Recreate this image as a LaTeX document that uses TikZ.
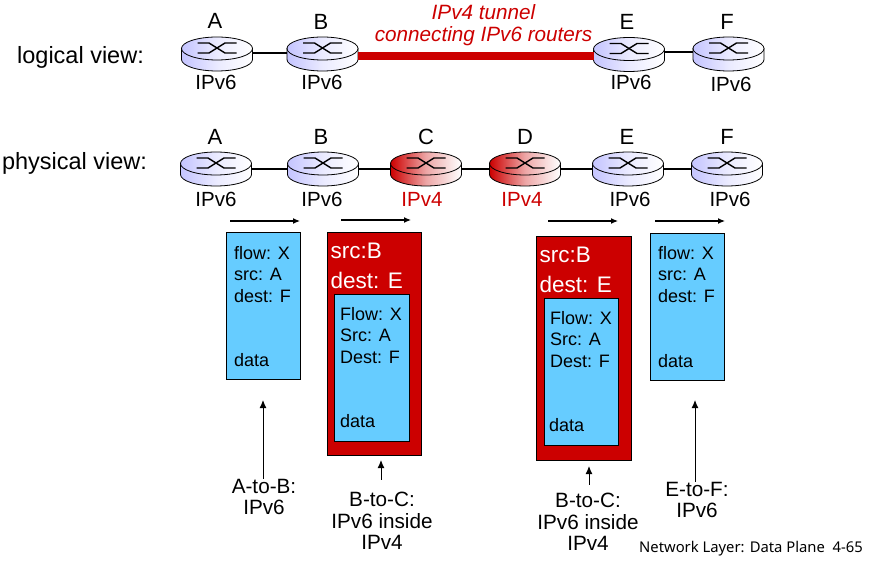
\documentclass[tikz,border=0pt]{standalone}
\usepackage{fontspec}
\setmainfont{Liberation Sans}
\newfontfamily\footfont{Noto Sans}
\usetikzlibrary{arrows.meta}
\definecolor{lav}{RGB}{196,196,255}
\definecolor{rd}{RGB}{204,0,0}
\definecolor{pk}{RGB}{102,204,255}
\newcommand{\router}[4]{%
 \path[draw=black,line width=.8pt,left color=#4,right color=white,middle color=#4!35!white]
  (#2-35.5,#3-5.5) -- (#2-35.5,#3+5.5) .. controls (#2-35.5,#3+11.85) and (#2-19.6,#3+17) .. (#2,#3+17)
  .. controls (#2+19.6,#3+17) and (#2+35.5,#3+11.85) .. (#2+35.5,#3+5.5) -- (#2+35.5,#3-5.5) -- cycle;
 \path[draw=black,line width=.8pt,left color=#4,right color=white,middle color=#4!35!white] (#2,#3-5.5) ellipse[x radius=35.5,y radius=11.5];
 \draw[line width=1.4pt] (#2-19.5,#3-1) -- (#2-8,#3-1) -- (#2+8,#3-11) -- (#2+19.5,#3-11);
 \draw[line width=1.4pt] (#2-19.5,#3-11) -- (#2-8,#3-11) -- (#2+8,#3-1) -- (#2+19.5,#3-1);
 \node[minimum width=71,minimum height=34,inner sep=0,outer sep=0] (#1) at (#2,#3) {};
}
\tikzset{x=1pt,y=-1pt,
 lbl/.style={font=\fontsize{22}{24}\selectfont,inner sep=0,anchor=center},
 ip/.style={font=\fontsize{20.5}{22}\selectfont,inner sep=0,anchor=center},
 link/.style={line width=1.5pt},
 flow/.style={line width=1.2pt,-{Latex[length=7pt,width=6pt]}},
 up/.style={line width=1pt,-{Latex[length=8pt,width=7pt]}},
 pkt/.style={draw=black,line width=.8pt,fill=pk},
 outerbox/.style={draw=black,line width=.8pt,fill=rd},
 ptxt/.style={font=\fontsize{18}{21.5}\selectfont,align=left,anchor=north west,inner sep=0},
 stxt/.style={font=\fontsize{22.5}{30}\selectfont,align=left,anchor=north west,inner sep=0,text=white},
 captxt/.style={font=\fontsize{20.7}{21.7}\selectfont,align=center,inner sep=0},
 viewtxt/.style={font=\fontsize{23.5}{26}\selectfont,inner sep=0},
}
\begin{document}
\begin{tikzpicture}
\useasboundingbox (0,0) rectangle (869,561);
% logical
\router{la}{217}{54}{lav}
\router{lb}{322.5}{54}{lav}
\router{le}{629}{54.5}{lav}
\router{lf}{728.5}{54}{lav}
\draw[link] ([yshift=1pt]la.east) -- ([yshift=1pt]lb.west);
\draw[line width=8pt,draw=rd] ([yshift=-2pt]lb.east) -- ([yshift=-1.5pt]le.west);
\draw[link] ([yshift=2.5pt]le.east) -- ([yshift=2pt]lf.west);
\node[lbl] (tA) at (215,21) {A};
\node[lbl] (tB) at (321,22) {B};
\node[lbl] (tE) at (627,22) {E};
\node[lbl] (tF) at (727,22) {F};
\node[ip] (iA) at (216,82) {IPv6};
\node[ip] (iB) at (322,82) {IPv6};
\node[ip] (iE) at (631,82.5) {IPv6};
\node[ip] (iF) at (731,84) {IPv6};
\node[font=\fontsize{20.7}{22}\selectfont\itshape,text=rd,align=center,inner sep=0] (tun) at (483.5,25) {IPv4 tunnel\\connecting IPv6 routers};
\node[viewtxt] (lv) at (80.5,57.5) {logical view:};
% physical
\router{pa}{216}{169}{lav}
\router{pb}{323}{169}{lav}
\router{pc}{426}{169}{rd}
\router{pd}{525}{169}{rd}
\router{pe}{628}{169}{lav}
\router{pf}{727}{169}{lav}
\draw[link] (pa.east) -- (pb.west);
\draw[link] (pb.east) -- (pc.west);
\draw[link] (pc.east) -- (pd.west);
\draw[link] (pd.east) -- (pe.west);
\draw[link] (pe.east) -- (pf.west);
\node[lbl] (ta) at (215,137) {A};
\node[lbl] (tb) at (321,137) {B};
\node[lbl] (tc) at (426,137) {C};
\node[lbl] (td) at (525,137) {D};
\node[lbl] (te) at (627,137) {E};
\node[lbl] (tf) at (727,137) {F};
\node[ip] (ia) at (216,199) {IPv6};
\node[ip] (ib) at (322,199) {IPv6};
\node[ip,text=rd] (ic) at (422,199) {IPv4};
\node[ip,text=rd] (id) at (522,199) {IPv4};
\node[ip] (ie) at (630,199) {IPv6};
\node[ip] (if) at (730,199) {IPv6};
\node[viewtxt] (pv) at (74.5,163.5) {physical view:};
% flow arrows
\coordinate (f1a) at (230,221); \coordinate (f1b) at (300,221);
\coordinate (f2a) at (341,220); \coordinate (f2b) at (411,220);
\coordinate (f3a) at (548,221); \coordinate (f3b) at (618,221);
\coordinate (f4a) at (655,221); \coordinate (f4b) at (725,221);
\draw[flow] (f1a) -- (f1b);
\draw[flow] (f2a) -- (f2b);
\draw[flow] (f3a) -- (f3b);
\draw[flow] (f4a) -- (f4b);
% packets
\path[pkt] (226.5,232.5) rectangle (300.5,379.5);
\node[ptxt] (p1) at (234,246) {flow: X\\src: A\\dest: F};
\node[ptxt] (p1d) at (234,353.5) {data};
\path[outerbox] (327.5,232.5) rectangle (421.5,455.5);
\node[stxt] (s2) at (330.5,243) {src:B\\dest: E};
\path[pkt] (334.5,294.5) rectangle (409.5,441.5);
\node[ptxt] (p2) at (340,307) {Flow: X\\Src: A\\Dest: F};
\node[ptxt] (p2d) at (340,414.5) {data};
\path[outerbox] (536.5,236.5) rectangle (631.5,460.5);
\node[stxt] (s3) at (539.5,247) {src:B\\dest: E};
\path[pkt] (544.5,298.5) rectangle (618.5,445.5);
\node[ptxt] (p3) at (550,311) {Flow: X\\Src: A\\Dest: F};
\node[ptxt] (p3d) at (549,418.5) {data};
\path[pkt] (650.5,233.5) rectangle (724.5,380.5);
\node[ptxt] (p4) at (658,246) {flow: X\\src: A\\dest: F};
\node[ptxt] (p4d) at (658,354.5) {data};
% captions
\node[captxt] (c1) at (264,497) {A-to-B:\\IPv6};
\node[captxt] (c2) at (382,521) {B-to-C:\\IPv6 inside\\IPv4};
\node[captxt] (c3) at (588,522) {B-to-C:\\IPv6 inside\\IPv4};
\node[captxt] (c4) at (697,500) {E-to-F:\\IPv6};
\coordinate (u1) at (263,400); \coordinate (u2) at (381,460); \coordinate (u3) at (589,466); \coordinate (u4) at (695,400);
\draw[up] (c1.north -| u1) -- (u1);
\draw[up] ([yshift=12pt]c2.north -| u2) -- (u2);
\draw[up] ([yshift=8pt]c3.north -| u3) -- (u3);
\draw[up] (c4.north -| u4) -- (u4);
\node[font=\footfont\fontsize{14.8}{18}\selectfont,inner sep=0] (foot) at (751,549) {Network Layer: Data Plane\ \ 4-65};
\end{tikzpicture}
\end{document}
